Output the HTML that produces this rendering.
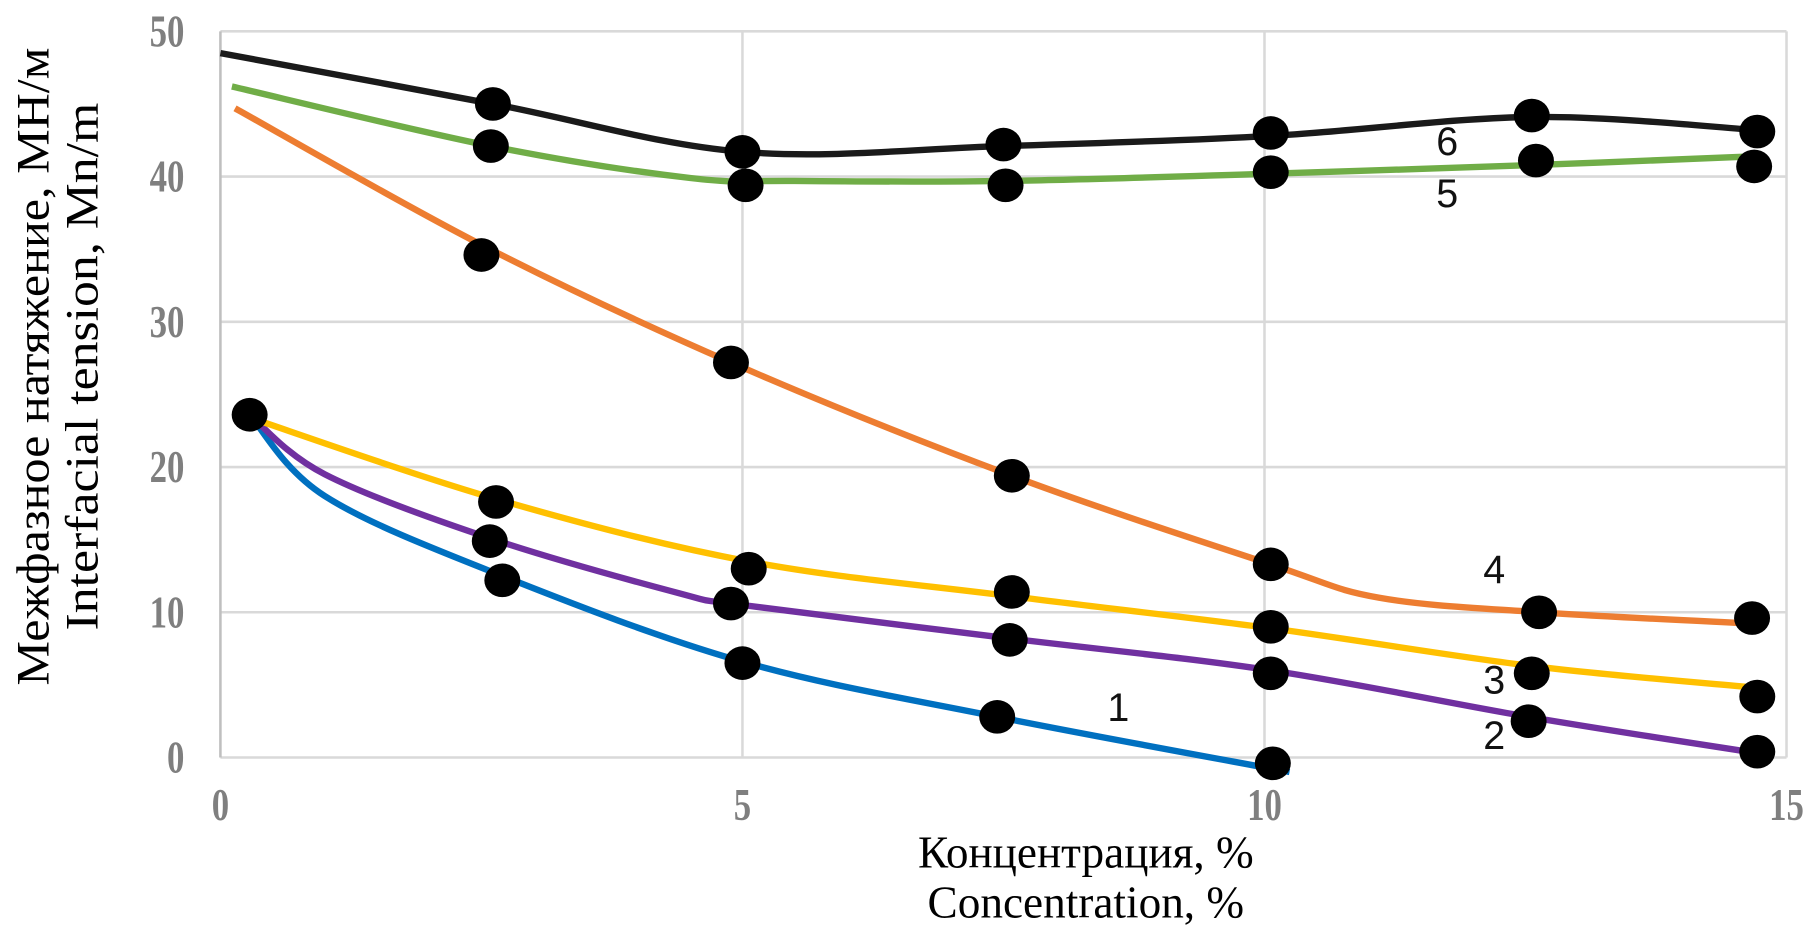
<!DOCTYPE html>
<html><head><meta charset="utf-8"><style>
html,body{margin:0;padding:0;background:#fff;}
svg{display:block;}
</style></head><body>
<svg id="chart" width="1819" height="932" viewBox="0 0 1568 803.4" preserveAspectRatio="none" xmlns="http://www.w3.org/2000/svg">
<g id="grid"></g>
<g id="series"></g>
<g id="labels"></g>
<text x="936" y="748" text-anchor="middle" font-family="Liberation Serif, serif" font-size="39">Концентрация, %</text>
<text x="936" y="791" text-anchor="middle" font-family="Liberation Serif, serif" font-size="39">Concentration, %</text>
<text transform="translate(42,316) rotate(-90)" text-anchor="middle" font-family="Liberation Serif, serif" font-size="40" textLength="550" lengthAdjust="spacingAndGlyphs">Межфазное натяжение, МН/м</text>
<text transform="translate(84,316) rotate(-90)" text-anchor="middle" font-family="Liberation Serif, serif" font-size="40" textLength="455" lengthAdjust="spacingAndGlyphs">Interfacial tension, Mn/m</text>
</svg>
<script>
const xTicks = [0, 5, 10, 15];
const yTicks = [0, 10, 20, 30, 40, 50];
const seriesNames = ["1", "2", "3", "4", "5", "6"];
const seriesColors = ["#0070c0", "#7030a0", "#ffc000", "#ed7d31", "#70ad47", "#1a1a1a"];
// line points [x, y]
const line1 = [[0.28,23.6],[1,18],[2.7,12.5],[5,6.6],[7.44,2.8],[10.24,-1.0]];
const line2 = [[0.28,23.6],[1,19.5],[2.58,15.1],[4.4,11.3],[5,10.5],[7.56,8.2],[10.06,6.0],[12.53,2.8],[14.72,0.3]];
const line3 = [[0.2,23.6],[2.64,17.8],[5.06,13.5],[7.58,11.1],[10.06,8.9],[12.56,6.3],[14.72,4.8]];
const line4 = [[0.14,44.7],[2.5,35.3],[4.89,27.2],[7.58,19.4],[10.06,13.3],[11.1,11.0],[12.63,10.0],[14.72,9.2]];
const line5 = [[0.11,46.2],[2.59,42.1],[4.5,39.9],[5.5,39.7],[7.52,39.7],[10.06,40.2],[12.6,40.8],[14.72,41.4]];
const line6 = [[0,48.5],[2.61,45.0],[5,41.7],[7.5,42.1],[10.06,42.8],[12.56,44.1],[14.72,43.2]];
// marker points [x, y]
const dots1 = [[0.28,23.6],[2.7,12.2],[5,6.5],[7.44,2.8],[10.08,-0.4]];
const dots2 = [[2.58,14.9],[4.89,10.6],[7.56,8.1],[10.06,5.8],[12.53,2.5],[14.72,0.4]];
const dots3 = [[2.64,17.6],[5.06,13.0],[7.58,11.4],[10.06,9.0],[12.56,5.8],[14.72,4.2]];
const dots4 = [[2.5,34.6],[4.89,27.2],[7.58,19.4],[10.06,13.3],[12.63,10.0],[14.67,9.6]];
const dots5 = [[2.59,42.1],[5.03,39.4],[7.52,39.4],[10.06,40.3],[12.6,41.1],[14.69,40.7]];
const dots6 = [[2.61,45.0],[5,41.7],[7.5,42.2],[10.06,43.0],[12.56,44.2],[14.72,43.1]];
// series label positions [x, y]
const labelPos = [[8.6,2.5],[12.2,0.6],[12.2,4.4],[12.2,12.0],[11.75,37.9],[11.75,41.5]];

const lines = [line1,line2,line3,line4,line5,line6];
const dots = [dots1,dots2,dots3,dots4,dots5,dots6];
const NS = "http://www.w3.org/2000/svg";
const X0 = 190, X1 = 1540, Y0 = 653, Y1 = 27;
function sx(v){ return X0 + (v - 0) / 15 * (X1 - X0); }
function sy(v){ return Y0 - (v - 0) / 50 * (Y0 - Y1); }
function mk(tag, attrs, parent){ const e = document.createElementNS(NS, tag); for (const k in attrs) e.setAttribute(k, attrs[k]); parent.appendChild(e); return e; }

const grid = document.getElementById("grid");
yTicks.forEach(t => {
  const l = mk("line", {x1:X0, x2:X1, y1:sy(t), y2:sy(t), stroke:"#d9d9d9", "stroke-width":2.2}, grid);
  
  
  const s = String(t);
  const tx = mk("text", {x:159, y:sy(t)+13, "text-anchor":"end", "font-family":"Liberation Serif, serif", "font-weight":"bold", "font-size":39, fill:"#7f7f7f", textLength: 15*s.length, lengthAdjust:"spacingAndGlyphs"}, grid);
  tx.textContent = s;
  
  
});
xTicks.forEach(t => {
  const l = mk("line", {x1:sx(t), x2:sx(t), y1:Y1, y2:Y0, stroke: t===0 ? "#bfbfbf" : "#d9d9d9", "stroke-width":2.2}, grid);
  
  
  const s = String(t);
  const tx = mk("text", {x:sx(t), y:707, "text-anchor":"middle", "font-family":"Liberation Serif, serif", "font-weight":"bold", "font-size":39, fill:"#7f7f7f", textLength: 15*s.length, lengthAdjust:"spacingAndGlyphs"}, grid);
  tx.textContent = s;
  
  
});

function smoothPath(pts){
  const p = pts.map(q => [sx(q[0]), sy(q[1])]);
  let d = "M" + p[0][0] + "," + p[0][1];
  for (let i = 0; i < p.length - 1; i++) {
    const a = p[i-1] || p[i], b = p[i], c = p[i+1], e = p[i+2] || c;
    const c1 = [b[0] + (c[0]-a[0])/6, b[1] + (c[1]-a[1])/6];
    const c2 = [c[0] - (e[0]-b[0])/6, c[1] - (e[1]-b[1])/6];
    d += " C" + c1 + " " + c2 + " " + c;
  }
  return d;
}
const sg = document.getElementById("series");
lines.forEach((pts, i) => {
  const path = mk("path", {d: smoothPath(pts), fill:"none", stroke:seriesColors[i], "stroke-width":5.5, "stroke-linecap":"butt"}, sg);
  
  
});
dots.forEach((pts, i) => {
  pts.forEach(q => {
    const c = mk("ellipse", {cx:sx(q[0]), cy:sy(q[1]), rx:15.5, ry:14.5, fill:"#000"}, sg);
    
    
  });
});
const lg = document.getElementById("labels");
labelPos.forEach((q, i) => {
  const t = mk("text", {x:sx(q[0]), y:sy(q[1]), "text-anchor":"middle", "font-family":"Liberation Sans, sans-serif", "font-size":34, fill:"#111"}, lg);
  t.textContent = seriesNames[i];
  
  
});
</script>
</body></html>
